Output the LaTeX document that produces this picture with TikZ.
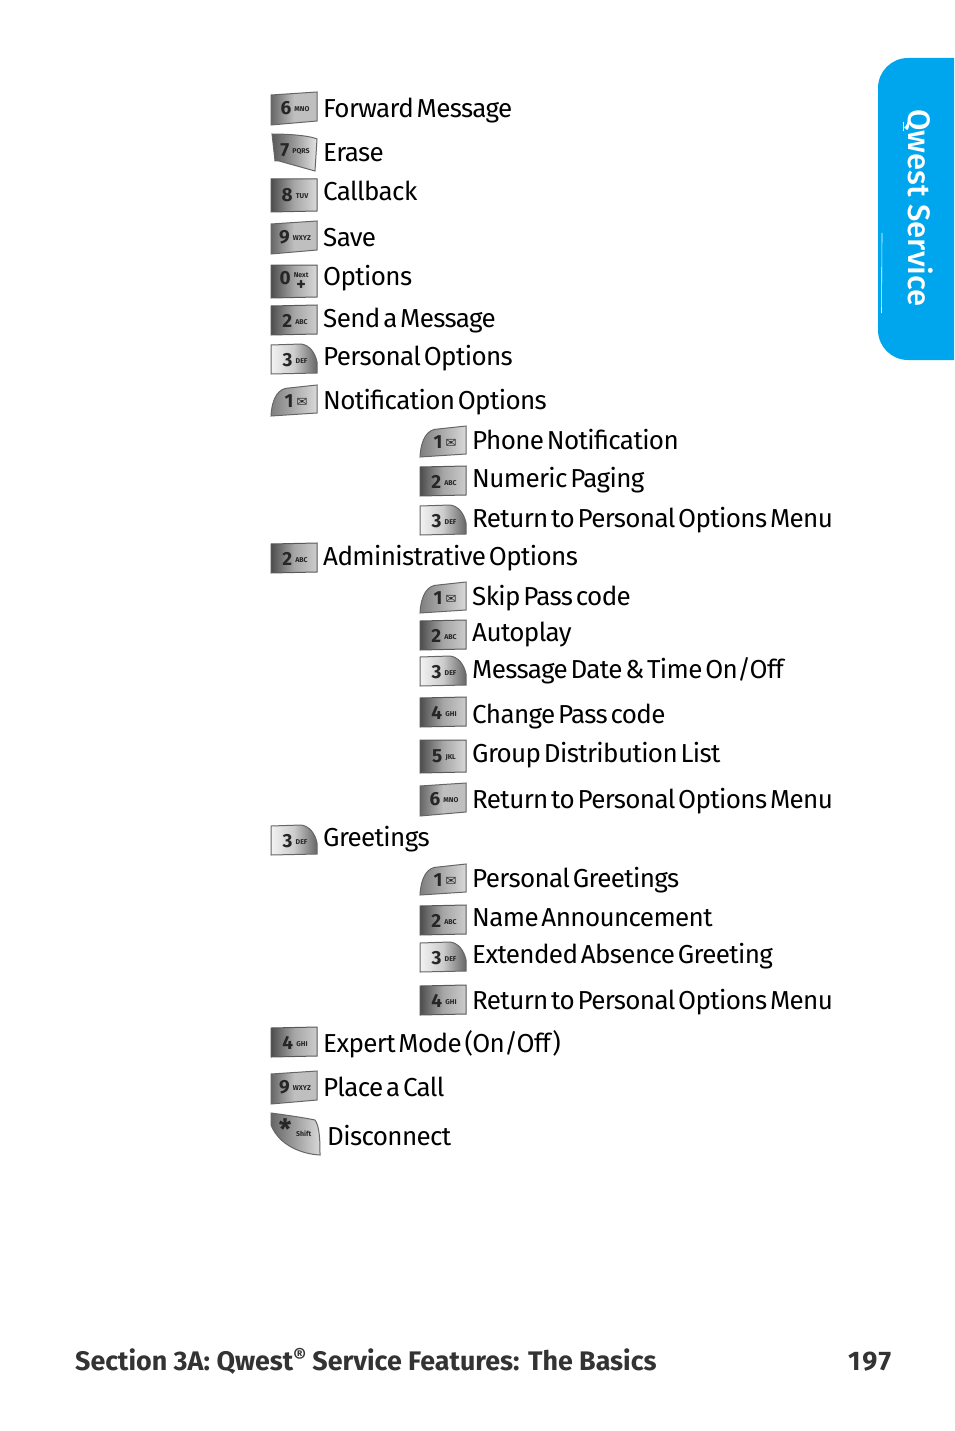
\documentclass[tikz,border=0pt]{standalone}
\usepackage{fontspec}
\setmainfont{Fira Sans}
\newfontfamily\menufont[WordSpace=0.45,LetterSpace=-2.4]{Fira Sans}
\newfontfamily\medfont{Fira Sans Medium}
\newfontfamily\symfont{DejaVu Sans}
\usepackage{tikz}
\definecolor{tabblue}{RGB}{0,166,237}
\tikzset{
    menulabel/.style={
        inner sep=0,
        anchor=base west,
        font=\menufont\fontsize{26}{30}\selectfont,
    },
    footlabel/.style={
        inner sep=0,
        anchor=base west,
        text=black!80,
        font=\bfseries\fontsize{26.85}{30}\selectfont,
    },
    keytext/.style={
        inner sep=0,
        text=black!85,
        font=\bfseries\fontsize{19}{20}\selectfont,
    },
    keyflat/.style={
        left color=black!70, right color=black!20, middle color=black!35, draw=black!65,
        insert path={(0,1) -- (46,0) -- (46,29) -- (0,30) -- cycle},
    },
    keybox/.style={
        left color=black!70, right color=black!15, middle color=black!35, draw=black!65,
        insert path={(0,0) -- (46,0) -- (46,32) -- (0,33) -- cycle},
    },
    keyup/.style={
        left color=black!60, right color=black!25, middle color=black!25, draw=black!60,
        insert path={(0,3) -- (46,0) -- (46,29) -- (0,33) -- cycle},
    },
    keydown/.style={
        left color=black!65, right color=black!10, middle color=black!40, draw=black!60,
        insert path={(1,0) .. controls (20,0) and (40,2) .. (46,5) -- (44,37) -- (8,27) -- (4,27) -- cycle},
    },
    keyright/.style={
        left color=black!5, right color=black!60, middle color=black!20, draw=black!60,
        insert path={(0,1) -- (30,0) .. controls (38,1) and (44,8) .. (46,18) -- (46,29) -- (0,30) -- cycle},
    },
    keyleft/.style={
        left color=black!50, right color=black!15, draw=black!60,
        insert path={(0,31) .. controls (1,12) and (8,3) .. (18,3) -- (46,0) -- (46,28) -- cycle},
    },
    keystar/.style={
        left color=black!60, right color=black!15, draw=black!60,
        insert path={(0,0) .. controls (15,2) and (35,5) .. (44,7) .. controls (49,14) and (49,30) .. (49,42) .. controls (30,41) and (8,32) .. (0,12) -- cycle},
    },
}
\newcommand{\phonekey}[7]{%
    \shadedraw[shift={(#2,#3)},line width=1,#4];
    \node[keytext] at (#2+#5,#3+16) (#1) {#6\,\raisebox{3pt}{\fontsize{7}{8}\selectfont #7}};
}
\newcommand{\mailicon}{{\symfont\fontsize{13}{13}\selectfont\raisebox{-2.5pt}{✉}}}
\newcommand{\nextplus}{\raisebox{-9pt}{\shortstack{Next\\[0pt]{\fontsize{18}{18}\selectfont +}}}}
\begin{document}
\begin{tikzpicture}[x=1pt,y=-1pt]
    \useasboundingbox (0,0) rectangle (954,1431);

    \fill[tabblue] (954,58) [rounded corners=30] -- (878,58) -- (878,360) [sharp corners] -- (954,360) -- cycle;
    \draw[white,line width=.6] (882,233) -- (881.5,313);
    \node[inner sep=0,text=white,rotate=-90,font=\medfont\fontsize{31}{34}\selectfont] at (919,208) (tabtext) {Qwest Service};
    \draw[white,line width=1.6] (903.5,122) -- (903.5,131);

    % top level keys
    \phonekey{fwdkey}{271}{92}{keyup}{24}{6}{MNO}
    \phonekey{erasekey}{271}{134}{keydown}{24}{7}{PQRS}
    \phonekey{callkey}{271}{179}{keybox}{24}{8}{TUV}
    \phonekey{savekey}{271}{221}{keyup}{24}{9}{WXYZ}
    \phonekey{optkey}{271}{265}{keybox}{23}{0}{\nextplus}
    \phonekey{sendkey}{271}{305}{keyflat}{24}{2}{ABC}
    \phonekey{perskey}{271}{344}{keyright}{24}{3}{DEF}
    \phonekey{notifkey}{271}{385}{keyleft}{25}{1}{\mailicon}
    \phonekey{adminkey}{271}{543}{keyflat}{24}{2}{ABC}
    \phonekey{greetkey}{271}{825}{keyright}{24}{3}{DEF}
    \phonekey{expertkey}{271}{1027}{keyflat}{24}{4}{GHI}
    \phonekey{placekey}{271}{1071}{keyup}{24}{9}{WXYZ}
    \phonekey{endkey}{271}{1113}{keystar}{24}{\fontsize{28}{28}\selectfont *}{Shift}

    % second level keys
    \phonekey{phonekey}{420}{426}{keyleft}{25}{1}{\mailicon}
    \phonekey{numkey}{420}{466}{keyflat}{24}{2}{ABC}
    \phonekey{retakey}{420}{505}{keyright}{24}{3}{DEF}
    \phonekey{skipkey}{420}{582}{keyleft}{25}{1}{\mailicon}
    \phonekey{autokey}{420}{620}{keyflat}{24}{2}{ABC}
    \phonekey{datekey}{420}{656}{keyright}{24}{3}{DEF}
    \phonekey{passkey}{420}{697}{keyflat}{24}{4}{GHI}
    \phonekey{groupkey}{420}{740}{keybox}{24}{5}{JKL}
    \phonekey{retbkey}{420}{783}{keyup}{24}{6}{MNO}
    \phonekey{pgreetkey}{420}{864}{keyleft}{25}{1}{\mailicon}
    \phonekey{namekey}{420}{905}{keyflat}{24}{2}{ABC}
    \phonekey{extkey}{420}{942}{keyright}{24}{3}{DEF}
    \phonekey{retckey}{420}{985}{keyflat}{24}{4}{GHI}

    % top level labels
    \node[menulabel] at (323,118) (fwd) {Forward Message};
    \node[menulabel] at (323,162) (erase) {Erase};
    \node[menulabel] at (323,201) (call) {Callback};
    \node[menulabel] at (323,247) (save) {Save};
    \node[menulabel] at (323,285) (opt) {Options};
    \node[menulabel] at (323,327) (send) {Send a Message};
    \node[menulabel] at (323,365) (pers) {Personal Options};
    \node[menulabel] at (323,409) (notif) {Notification Options};
    \node[menulabel] at (323,565) (admin) {Administrative Options};
    \node[menulabel] at (323,846) (greet) {Greetings};
    \node[menulabel] at (323,1052) (expert) {Expert Mode (On/Off)};
    \node[menulabel] at (323,1096) (place) {Place a Call};
    \node[menulabel] at (327,1145) (end) {Disconnect};

    % second level labels
    \node[menulabel] at (472,449) (phone) {Phone Notification};
    \node[menulabel] at (472,487) (num) {Numeric Paging};
    \node[menulabel] at (472,527) (reta) {Return to Personal Options Menu};
    \node[menulabel] at (472,605) (skip) {Skip Pass code};
    \node[menulabel] at (472,641) (auto) {Autoplay};
    \node[menulabel] at (472,678) (date) {Message Date \& Time On/Off};
    \node[menulabel] at (472,723) (pass) {Change Pass code};
    \node[menulabel] at (472,762) (group) {Group Distribution List};
    \node[menulabel] at (472,808) (retb) {Return to Personal Options Menu};
    \node[menulabel] at (472,887) (pgreet) {Personal Greetings};
    \node[menulabel] at (472,926) (name) {Name Announcement};
    \node[menulabel] at (472,963) (ext) {Extended Absence Greeting};
    \node[menulabel] at (472,1009) (retc) {Return to Personal Options Menu};

    \node[footlabel] at (75,1370) (foot) {Section 3A: Qwest{\fontsize{20}{20}\selectfont\raisebox{7pt}{®}} Service Features: The Basics};
    \node[footlabel] at (848,1370) (page) {\addfontfeature{LetterSpace=6}197};
\end{tikzpicture}
\end{document}
